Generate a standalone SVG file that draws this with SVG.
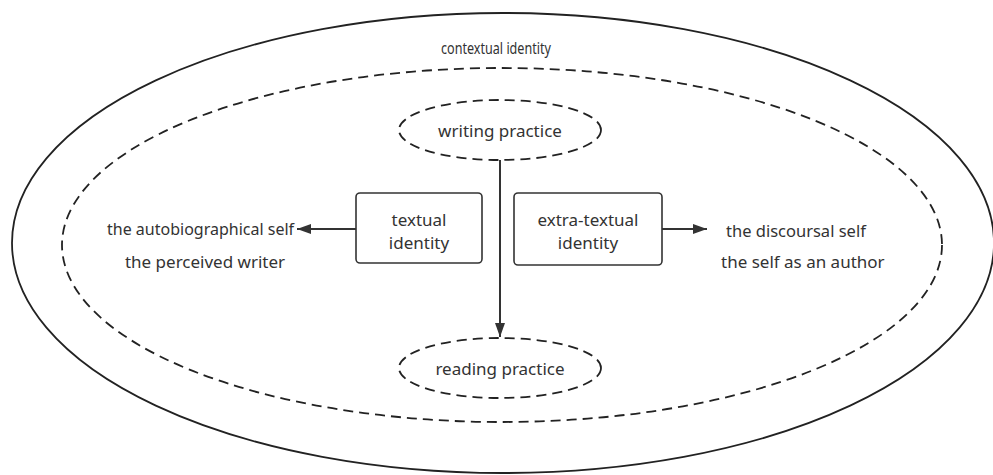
<svg xmlns="http://www.w3.org/2000/svg" width="993" height="475" viewBox="0 0 993 475">
<style>
.t{font-family:"Noto Sans","Open Sans","Liberation Sans",sans-serif;fill:#333;}
.solid{fill:none;stroke:#222;stroke-width:1.8;}
.dash{fill:none;stroke:#222;stroke-width:1.8;stroke-dasharray:10 6;}
.box{fill:#fff;stroke:#333;stroke-width:1.6;}
.con{fill:none;stroke:#333;stroke-width:2;}
</style>
<defs>
<marker id="ah" viewBox="0 0 14 10" refX="14" refY="5" markerWidth="14" markerHeight="10" markerUnits="userSpaceOnUse" orient="auto">
<path d="M0,0 L14,5 L0,10 Z" fill="#333"/>
</marker>
</defs>
<rect width="993" height="475" fill="#fff"/>
<g id="contextual">
<ellipse class="solid" cx="503" cy="243" rx="491" ry="230"/>
<text class="t" x="441" y="54" font-size="17" textLength="110" lengthAdjust="spacingAndGlyphs">contextual identity</text>
</g>
<g id="practice-boundary">
<ellipse class="dash" cx="502" cy="245" rx="440" ry="177"/>
</g>
<g id="writing">
<ellipse class="dash" cx="500" cy="130" rx="101" ry="30"/>
<text class="t" x="500" y="137" font-size="17" text-anchor="middle">writing practice</text>
</g>
<g id="reading">
<ellipse class="dash" cx="500" cy="368" rx="101" ry="30"/>
<text class="t" x="500" y="375" font-size="17" text-anchor="middle">reading practice</text>
</g>
<g id="textual">
<rect class="box" x="356" y="193" width="126" height="70" rx="4"/>
<text class="t" x="419" y="226" font-size="17" text-anchor="middle">textual</text>
<text class="t" x="419" y="249" font-size="17" text-anchor="middle">identity</text>
</g>
<g id="extratextual">
<rect class="box" x="514" y="193" width="148" height="72" rx="4"/>
<text class="t" x="588" y="226" font-size="17" text-anchor="middle">extra-textual</text>
<text class="t" x="588" y="249" font-size="17" text-anchor="middle">identity</text>
</g>
<g id="autobiographical">
<text class="t" x="107" y="235" font-size="16">the autobiographical self</text>
</g>
<g id="perceived">
<text class="t" x="205" y="268" font-size="17" text-anchor="middle">the perceived writer</text>
</g>
<g id="discoursal">
<text class="t" x="726" y="237" font-size="16.5">the discoursal self</text>
</g>
<g id="author">
<text class="t" x="721" y="268" font-size="17">the self as an author</text>
</g>
<g id="connectors">
<line class="con" x1="500" y1="160" x2="500" y2="337" marker-end="url(#ah)"/>
<line class="con" x1="356" y1="229" x2="297" y2="229" marker-end="url(#ah)"/>
<line class="con" x1="662" y1="229" x2="707" y2="229" marker-end="url(#ah)"/>
</g>
</svg>
